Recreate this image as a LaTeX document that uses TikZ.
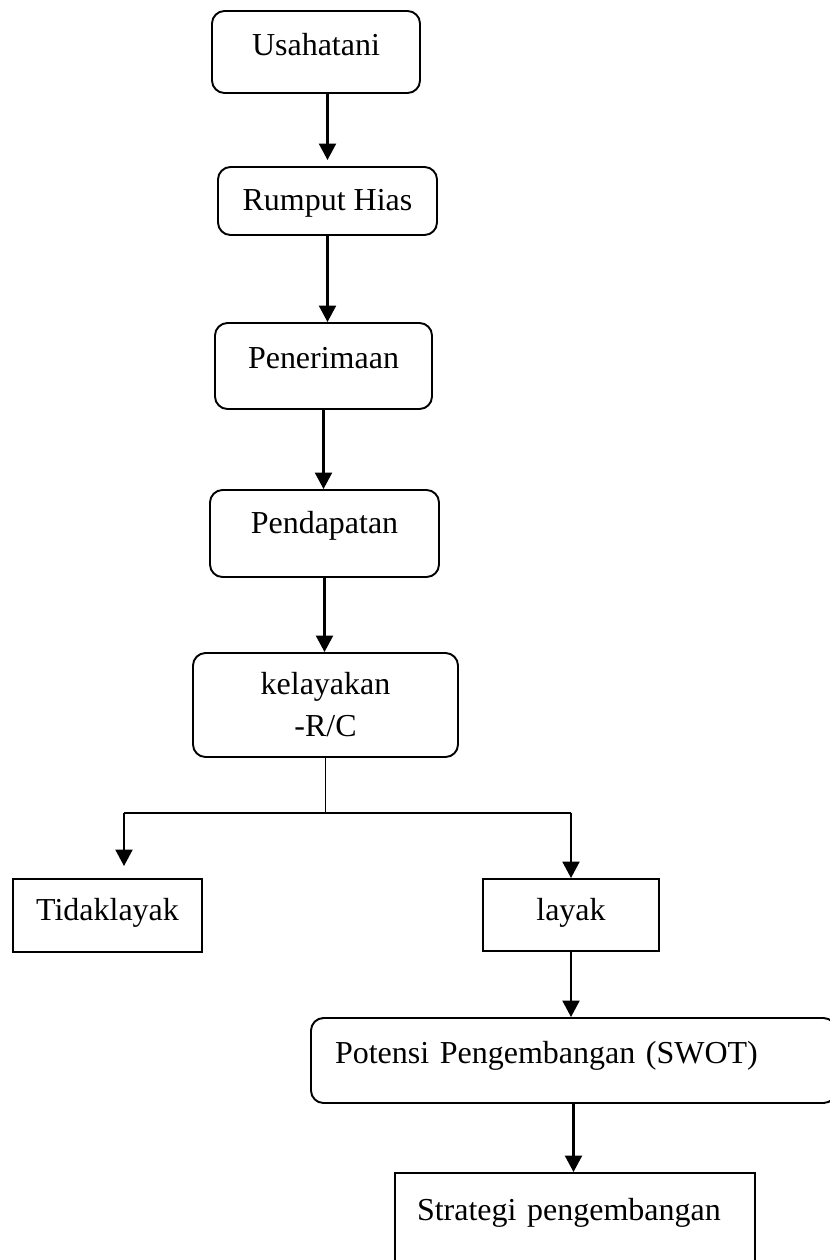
\documentclass[tikz,border=0pt]{standalone}
\usepackage{fontspec}
\setmainfont{Liberation Serif}
\usetikzlibrary{%
  arrows.meta,%
  positioning% wg. " of "
}

\begin{document}
\begin{tikzpicture}[
  line width=1.1pt, font=\fontsize{18.2}{23.9}\selectfont, >={Triangle[length=0.33cm,width=0.34cm]}, draw=black,
  roundbox/.style={rectangle, rounded corners=0.25cm, draw=black, line width=1.1pt, inner xsep=0pt, inner ysep=0pt, anchor=base},
  sharpbox/.style={rectangle, draw=black, line width=1.1pt, inner xsep=0pt, inner ysep=0pt, anchor=base},
  arrow/.style={->, line width=1.3pt}
]

\useasboundingbox (0,0) rectangle (16.6,-25.2);

\node[roundbox, minimum width=4.16cm, text height=0.88cm, text depth=0.76cm] (usaha) at (6.32,-1.10) {Usahatani};
\node[roundbox, minimum width=4.38cm, text height=0.86cm, text depth=0.50cm] (rumput) at (6.55,-4.20) {Rumput Hias};
\node[roundbox, minimum width=4.34cm, text height=0.90cm, text depth=0.82cm] (terima) at (6.47,-7.36) {Penerimaan};
\node[roundbox, minimum width=4.58cm, text height=0.86cm, text depth=0.88cm] (dapat) at (6.49,-10.66) {Pendapatan};
\node[roundbox, anchor=center, minimum width=5.30cm, minimum height=2.08cm, align=center] (layakan) at (6.51,-14.10) {kelayakan\\-R/C};

\node[sharpbox, minimum width=3.78cm, text height=0.82cm, text depth=0.64cm] (tidak) at (2.15,-18.40) {Tidaklayak};
\node[sharpbox, minimum width=3.52cm, text height=0.82cm, text depth=0.62cm] (layak) at (11.42,-18.40) {layak};

\node[roundbox, text width=9.54cm, align=left, inner xsep=0.48cm, text height=0.90cm, text depth=0.80cm] (swot) at (11.47,-21.26) {Potensi Pengembangan (SWOT)};
\node[sharpbox, text width=6.32cm, align=left, inner xsep=0.44cm, text height=0.94cm, text depth=1.40cm] (strat) at (11.50,-24.40) {Strategi pengembangan};

\draw[arrow, shorten >=0.12cm] (usaha.south -| rumput.north) -- (rumput.north);
\draw[arrow] (rumput.south) -- (rumput.south |- terima.north);
\draw[arrow] (terima.south) -- (terima.south |- dapat.north);
\draw[arrow] (dapat.south) -- (dapat.south |- layakan.north);

% cabang
\coordinate[below=1.1cm of layakan] (fork);
\coordinate[left=4.03cm of fork] (forkL);
\draw (layakan.south) -- (fork);
\draw (forkL) -- (layak.north |- fork);
\draw[arrow, shorten >=0.24cm] (forkL) -- (forkL |- tidak.north);
\draw[arrow] (layak.north |- fork) -- (layak.north);

\draw[arrow] (layak.south) -- (layak.south |- swot.north);
\draw[arrow] (swot.south) -- (swot.south |- strat.north);

\end{tikzpicture}
\end{document}
